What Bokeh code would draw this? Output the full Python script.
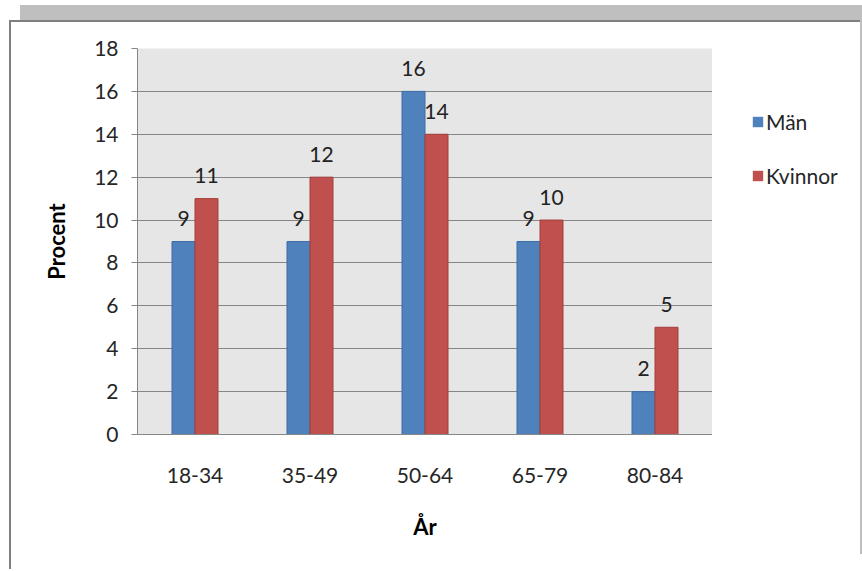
from bokeh.plotting import figure
from bokeh.layouts import row
from bokeh.models import ColumnDataSource, FactorRange, Legend, LegendItem, Range1d, FixedTicker
from bokeh.transform import dodge
from bokeh.core.properties import value
from bokeh.embed import file_html
from bokeh.resources import INLINE

categories = ["18-34", "35-49", "50-64", "65-79", "80-84"]
man = [9, 9, 16, 9, 2]
kvinnor = [11, 12, 14, 10, 5]
y_ticks = [0, 2, 4, 6, 8, 10, 12, 14, 16, 18]
series_names = ["Män", "Kvinnor"]
series_colors = ["#4f81bd", "#c0504d"]
series_lines = ["#3d6da6", "#a23f3c"]

FONT = "Lato"
H = 547
src = ColumnDataSource(dict(cat=categories, man=man, kv=kvinnor,
                            man_s=[str(v) for v in man], kv_s=[str(v) for v in kvinnor]))

# main chart; canvas starts at page (11, 22) thanks to the CSS margin + border on the row
p = figure(x_range=FactorRange(*categories, range_padding=0), y_range=Range1d(0, 18),
           width=126 + 575, height=H, output_backend="svg", toolbar_location=None,
           min_border_left=126, min_border_right=0, min_border_top=26,
           min_border_bottom=H - 26 - 386)
p.background_fill_color = "#e6e6e6"
p.border_fill_color = "white"
p.outline_line_color = None

p.vbar(x=dodge("cat", -0.1, range=p.x_range), top="man", width=0.2, source=src,
       fill_color=series_colors[0], line_color=series_lines[0], line_width=1)
p.vbar(x=dodge("cat", 0.1, range=p.x_range), top="kv", width=0.2, source=src,
       fill_color=series_colors[1], line_color=series_lines[1], line_width=1)

for col, off in (("man", -0.1), ("kv", 0.1)):
    p.text(x=dodge("cat", off, range=p.x_range), y=col, text=col + "_s", source=src,
           text_align="center", text_baseline="alphabetic", y_offset=-23,
           text_font=value(FONT), text_font_size="21px", text_color="#222222")

p.xgrid.grid_line_color = None
p.ygrid.grid_line_color = "#868686"
p.ygrid.grid_line_width = 1
p.yaxis.ticker = FixedTicker(ticks=y_ticks)

for ax in (p.xaxis[0], p.yaxis[0]):
    ax.axis_line_color = "#868686"
    ax.major_label_text_font = FONT
    ax.major_label_text_font_size = "21px"
    ax.major_label_text_color = "#262626"
    ax.axis_label_text_font = FONT
    ax.axis_label_text_font_size = "22px"
    ax.axis_label_text_font_style = "bold"
    ax.axis_label_text_color = "#000000"
    ax.minor_tick_line_color = None

p.yaxis.major_tick_out = 6
p.yaxis.major_tick_in = 0
p.yaxis.major_tick_line_color = "#868686"
p.yaxis.major_label_standoff = 13
p.yaxis.axis_label = "Procent"
p.yaxis.axis_label_standoff = 21

p.xaxis.major_tick_line_color = None
p.xaxis.major_label_standoff = 27
p.xaxis.axis_label = "År"
p.xaxis.axis_label_standoff = 27

# legend panel as a small figure whose frame fills its canvas
lf = figure(x_range=Range1d(0, 1), y_range=Range1d(0, 1), width=148, height=H,
            output_backend="svg", toolbar_location=None, min_border=0,
            min_border_left=0, min_border_right=0, min_border_top=0, min_border_bottom=0)
lf.axis.visible = False
lf.grid.visible = False
lf.outline_line_color = None
lf.background_fill_color = "white"
lf.border_fill_color = "white"
items = []
for name, fc in zip(series_names, series_colors):
    # zero-height proxy glyph outside the visible range; only its legend swatch is shown
    r = lf.vbar(x=[-5], top=[0], bottom=[0], width=0.2, fill_color=fc, line_color=None)
    items.append(LegendItem(label=name, renderers=[r]))

legend = Legend(items=items, location="top_left", orientation="vertical")
legend.title = " "
legend.title_text_font_size = "1px"
legend.title_standoff = 21
legend.background_fill_alpha = 0
legend.border_line_color = None
legend.padding = 0
legend.margin = 39
legend.glyph_width = 13
legend.glyph_height = 13
legend.label_standoff = 2
legend.spacing = 29
legend.label_text_font = FONT
legend.label_text_font_size = "21px"
legend.label_text_color = "#262626"
legend.label_height = 24
lf.add_layout(legend, "center")

layout = row(p, lf, spacing=0)
layout.styles = {"margin-left": "9px", "margin-top": "20px",
                 "border-left": "2px solid #7f7f7f", "border-top": "2px solid #7f7f7f",
                 "box-shadow": "11px -15px 0 0 #bfbfbf"}

open("out.html", "w").write(file_html(layout, INLINE))
